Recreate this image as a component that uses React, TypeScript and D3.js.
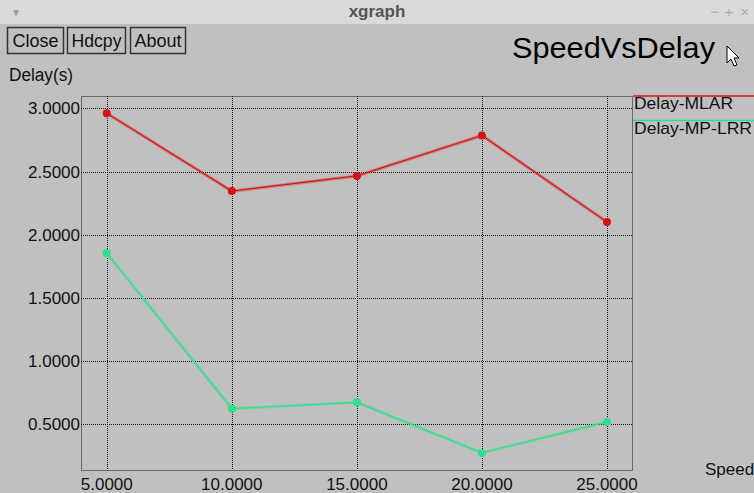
import React from "react";
import * as d3 from "d3";

const speeds = [5, 10, 15, 20, 25];
const delayMLAR = [2.96, 2.345, 2.465, 2.785, 2.1];
const delayMPLRR = [1.855, 0.625, 0.675, 0.275, 0.52];
const xTicks = [5, 10, 15, 20, 25];
const yTicks = [0.5, 1.0, 1.5, 2.0, 2.5, 3.0];
const seriesNames = ["Delay-MLAR", "Delay-MP-LRR"];
const seriesColors = ["#d41414", "#2fe08a"];

const W = 754;
const H = 493;
const box = { left: 81, top: 96, right: 632, bottom: 470 };
const font = "'Liberation Sans', Arial, sans-serif";

const App = () => {
  const x = d3.scaleLinear().domain([3.97, 26.0]).range([box.left, box.right]);
  const y = d3.scaleLinear().domain([0.14, 3.097]).range([box.bottom, box.top]);

  const line = d3
    .line<number>()
    .x((_, i) => x(speeds[i]))
    .y((d) => y(d));

  const allSeries = [delayMLAR, delayMPLRR];
  const fmt = d3.format(".4f");

  // button boxes, measured off the window
  const buttons = [
    { label: "Close", x: 7, w: 56, tw: 46 },
    { label: "Hdcpy", x: 67, w: 58, tw: 50 },
    { label: "About", x: 130, w: 55, tw: 47 },
  ];
  const legendWidths = [99, 118];

  return (
    <svg
      width={W}
      height={H}
      style={{ position: "absolute", left: 0, top: 0, display: "block" }}
      fontFamily={font}
    >
      <rect width={W} height={H} fill="#c0c0c0" />

      {/* window title bar */}
      <rect width={W} height={24} fill="#dadada" />
      <text x={W / 2} y={17} textAnchor="middle" fontSize={17} fontWeight="bold" fill="#555">
        xgraph
      </text>
      <text x={16} y={16} textAnchor="middle" fontSize={10} fill="#999">▼</text>
      <text x={715} y={17} textAnchor="middle" fontSize={15} fill="#aaa">−</text>
      <text x={729} y={17} textAnchor="middle" fontSize={15} fill="#aaa">+</text>
      <text x={745} y={17} textAnchor="middle" fontSize={15} fill="#aaa">×</text>

      {/* buttons */}
      {buttons.map((b) => (
        <g key={b.label}>
          <rect x={b.x + 0.5} y={27.5} width={b.w} height={26} fill="none" stroke="#333" strokeWidth={1.5} />
          <text
            x={b.x + b.w / 2 + 0.5}
            y={47}
            textAnchor="middle"
            fontSize={18}
            fill="#111"
            textLength={b.tw}
            lengthAdjust="spacingAndGlyphs"
          >
            {b.label}
          </text>
        </g>
      ))}

      {/* title */}
      <text x={512} y={58} fontSize={29} fill="#000" textLength={203} lengthAdjust="spacingAndGlyphs">
        SpeedVsDelay
      </text>
      <path
        d="M727,46 L727,63 L731,59 L734,66 L737,65 L734,58 L739,58 Z"
        fill="#fff"
        stroke="#000"
        strokeWidth={1}
      />

      <text x={9} y={81} fontSize={18} fill="#111" textLength={64} lengthAdjust="spacingAndGlyphs">
        Delay(s)
      </text>
      <text x={705} y={475} fontSize={17} fill="#111">Speed</text>

      {/* grid */}
      <g stroke="#111" strokeWidth={1} strokeDasharray="1,1" fill="none">
        <rect x={box.left + 0.5} y={box.top + 0.5} width={box.right - box.left} height={box.bottom - box.top} />
        {xTicks.map((t) => (
          <line key={t} x1={Math.round(x(t)) + 0.5} x2={Math.round(x(t)) + 0.5} y1={box.top} y2={box.bottom} />
        ))}
        {yTicks.map((t) => (
          <line key={t} x1={box.left} x2={box.right} y1={Math.round(y(t)) + 0.5} y2={Math.round(y(t)) + 0.5} />
        ))}
      </g>

      {/* tick labels */}
      {yTicks.map((t) => (
        <text key={t} x={box.left - 1} y={y(t) + 6} textAnchor="end" fontSize={17} fill="#111">
          {fmt(t)}
        </text>
      ))}
      {xTicks.map((t) => (
        <text key={t} x={x(t)} y={490} textAnchor="middle" fontSize={17} fill="#111">
          {fmt(t)}
        </text>
      ))}

      {/* series */}
      {allSeries.map((s, si) => (
        <g key={si}>
          <path d={line(s) || ""} fill="none" stroke={seriesColors[si]} strokeOpacity={0.3} strokeWidth={3.5} />
          <path d={line(s) || ""} fill="none" stroke={seriesColors[si]} strokeWidth={1.2} />
          {s.map((v, i) => (
            <circle key={i} cx={x(speeds[i])} cy={y(v)} r={4} fill={seriesColors[si]} />
          ))}
        </g>
      ))}

      {/* legend */}
      {seriesNames.map((n, i) => (
        <g key={n}>
          <line x1={633} x2={W} y1={96 + i * 24.5} y2={96 + i * 24.5} stroke={seriesColors[i]} strokeWidth={1.5} />
          <text
            x={634}
            y={109 + i * 24.5}
            fontSize={17}
            fill="#111"
            textLength={legendWidths[i]}
            lengthAdjust="spacingAndGlyphs"
          >
            {n}
          </text>
        </g>
      ))}
    </svg>
  );
};

export default App;
